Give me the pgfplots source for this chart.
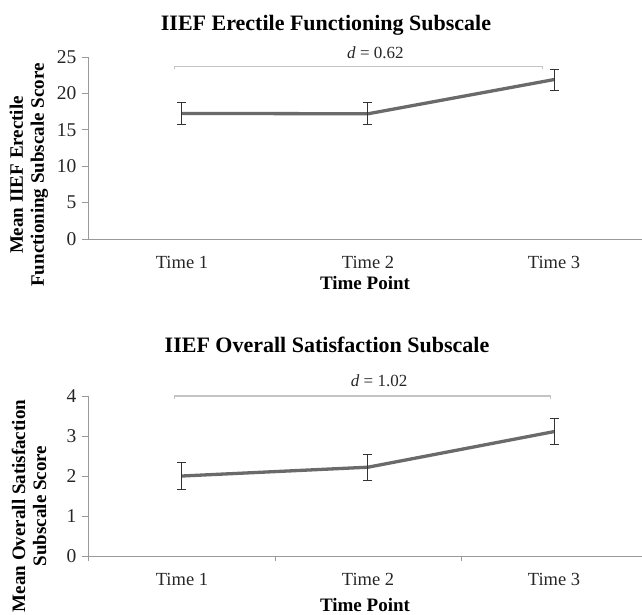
\documentclass[border=0pt]{standalone}
\usepackage{fontspec}
\setmainfont{Liberation Serif}
\usepackage{pgfplots}
\pgfplotsset{compat=1.18}
\definecolor{linegray}{HTML}{6A6A6A}
\definecolor{axisgray}{HTML}{9A9A9A}
\definecolor{brgray}{HTML}{C4C4C4}
\definecolor{errc}{HTML}{333333}
\begin{document}
\begin{tikzpicture}
\useasboundingbox (0pt,0pt) rectangle (642pt,-615pt);
\pgfplotsset{
  common/.style={
    scale only axis, width=554pt,
    xmin=-0.505, xmax=2.473,
    axis x line=bottom, axis y line=left,
    axis line style={-, draw=axisgray, line width=0.9pt},
    xtick={0,1,2}, xticklabels={Time 1,Time 2,Time 3},
    major x tick style={draw=none},
    tick align=outside,
    major tick length=6pt,
    y tick style={draw=axisgray, line width=0.9pt},
    /pgf/number format/assume math mode=true,
    tick label style={font=\fontsize{18.5}{20}\selectfont, text=black!85},
    yticklabel style={font=\fontsize{19.5}{21}\selectfont, xshift=-2pt},
    xticklabel style={anchor=base, yshift=-23pt},
    xlabel={Time Point},
    clip=false,
  },
  eb/.style={line width=3.3pt, color=linegray, mark=none,
    error bars/.cd, y dir=both, y explicit,
    error bar style={line width=1pt, color=errc},
    error mark options={rotate=90, mark size=4.5pt, line width=1pt, color=errc}},
}
% ---------- top chart ----------
\begin{axis}[common, at={(88pt,-239pt)}, anchor=south west,
  height=182pt, ymin=0, ymax=25, ytick={0,5,10,15,20,25},
  xlabel style={at={(axis description cs:0.5,0)}, anchor=base, yshift=-50pt, font=\bfseries\fontsize{19}{21}\selectfont}]
\addplot[eb] coordinates {
  (0,17.25) +- (0,1.5)
  (1,17.2)  +- (0,1.5)
  (2,21.9)  +- (0,1.45)
};
\draw[brgray, line width=1.2pt] (axis cs:-0.04,23.3) -- (axis cs:-0.04,23.7) -- (axis cs:1.94,23.7) -- (axis cs:1.94,23.3);
\node[font=\fontsize{17}{19}\selectfont, text=black!85, anchor=base] at (axis cs:1.04,24.75) {\textit{d} = 0.62};
\end{axis}
\node[font=\bfseries\fontsize{22}{24}\selectfont, anchor=base] at (326pt,-31pt) {IIEF Erectile Functioning Subscale};
\node[rotate=90, align=center, font=\bfseries\fontsize{19}{21}\selectfont] at (29pt,-175pt) {Mean IIEF Erectile\\Functioning Subscale Score};
% ---------- bottom chart ----------
\begin{axis}[common, at={(88pt,-556pt)}, anchor=south west,
  height=160pt, ymin=0, ymax=4, ytick={0,1,2,3,4},
  minor xtick={-0.5,0.5,1.5,2.5}, minor tick length=5pt,
  minor x tick style={draw=axisgray, line width=0.9pt},
  xlabel style={at={(axis description cs:0.5,0)}, anchor=base, yshift=-55pt, font=\bfseries\fontsize{19}{21}\selectfont}]
\addplot[eb] coordinates {
  (0,2.0)  +- (0,0.33)
  (1,2.22) +- (0,0.33)
  (2,3.11) +- (0,0.33)
};
\draw[brgray, line width=1.2pt] (axis cs:-0.04,3.92) -- (axis cs:-0.04,4.0) -- (axis cs:1.98,4.0) -- (axis cs:1.98,3.92);
\node[font=\fontsize{17}{19}\selectfont, text=black!85, anchor=base] at (axis cs:1.06,4.23) {\textit{d} = 1.02};
\end{axis}
\node[font=\bfseries\fontsize{22}{24}\selectfont, anchor=base] at (327pt,-352pt) {IIEF Overall Satisfaction Subscale};
\node[rotate=90, align=center, font=\bfseries\fontsize{19}{21}\selectfont] at (29pt,-506pt) {Mean Overall Satisfaction\\Subscale Score};
\end{tikzpicture}
\end{document}
